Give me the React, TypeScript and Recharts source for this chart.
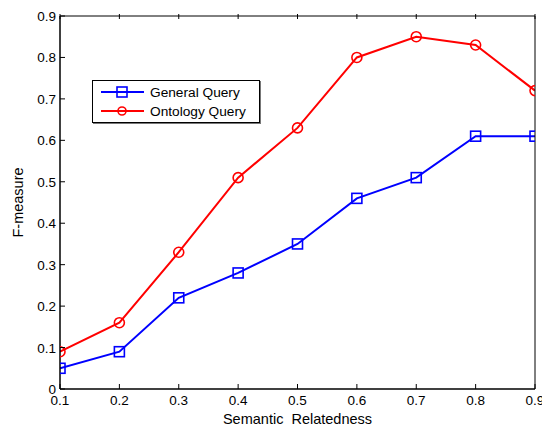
import { Label, Line, LineChart, XAxis, YAxis } from 'recharts';

const relatedness = [0.1, 0.2, 0.3, 0.4, 0.5, 0.6, 0.7, 0.8, 0.9];
const generalQuery = [0.05, 0.09, 0.22, 0.28, 0.35, 0.46, 0.51, 0.61, 0.61];
const ontologyQuery = [0.09, 0.16, 0.33, 0.51, 0.63, 0.8, 0.85, 0.83, 0.72];
const xTicks = [0.1, 0.2, 0.3, 0.4, 0.5, 0.6, 0.7, 0.8, 0.9];
const yTicks = [0, 0.1, 0.2, 0.3, 0.4, 0.5, 0.6, 0.7, 0.8, 0.9];

const FONT = '"Liberation Sans", Arial, sans-serif';
const BLUE = '#0000ff';
const RED = '#ff0000';

const chartData = relatedness.map((r, i) => ({
  r,
  general: generalQuery[i],
  ontology: ontologyQuery[i],
}));

function SquareDot(props: any) {
  const { cx, cy } = props;
  if (cx == null || cy == null) return null;
  return (
    <rect x={cx - 5} y={cy - 5} width={10} height={10} fill="none" stroke={BLUE} strokeWidth={1.6} />
  );
}

function CircleDot(props: any) {
  const { cx, cy } = props;
  if (cx == null || cy == null) return null;
  return <circle cx={cx} cy={cy} r={5} fill="none" stroke={RED} strokeWidth={1.6} />;
}

function BottomTick(props: any) {
  const { x, y, payload } = props;
  return (
    <g>
      <line x1={x} y1={y} x2={x} y2={y - 5} stroke="#000" />
      <text x={x} y={y + 16} textAnchor="middle" fontSize={13.5} fill="#000" fontFamily={FONT}>
        {payload.value}
      </text>
    </g>
  );
}

function LeftTick(props: any) {
  const { x, y, payload } = props;
  return (
    <g>
      <line x1={x} y1={y} x2={x + 5} y2={y} stroke="#000" />
      <text x={x - 4} y={y + 5} textAnchor="end" fontSize={13.5} fill="#000" fontFamily={FONT}>
        {payload.value}
      </text>
    </g>
  );
}

function TopTick(props: any) {
  const { x, y } = props;
  return <line x1={x} y1={y} x2={x} y2={y + 5} stroke="#000" />;
}

function RightTick(props: any) {
  const { x, y } = props;
  return <line x1={x} y1={y} x2={x - 5} y2={y} stroke="#000" />;
}

function LegendBox() {
  const rows = [
    { name: 'General Query', color: BLUE, square: true },
    { name: 'Ontology Query', color: RED, square: false },
  ];
  return (
    <div
      style={{
        position: 'absolute',
        left: 92,
        top: 80,
        width: 168,
        height: 43,
        border: '1px solid #000',
        boxShadow: '1px 1px 0 #777',
        background: '#fff',
        boxSizing: 'border-box',
      }}
    >
      <svg width={166} height={41} style={{ display: 'block' }}>
        {rows.map((row, i) => {
          const cy = 11 + i * 19;
          return (
            <g key={row.name}>
              <line x1={8} x2={51} y1={cy} y2={cy} stroke={row.color} strokeWidth={2} />
              {row.square ? (
                <rect x={24} y={cy - 5} width={10} height={10} fill="none" stroke={row.color} strokeWidth={1.6} />
              ) : (
                <circle cx={29} cy={cy} r={4} fill="none" stroke={row.color} strokeWidth={1.6} />
              )}
              <text x={57} y={cy + 5} fontSize={13.7} fill="#000" fontFamily={FONT}>
                {row.name}
              </text>
            </g>
          );
        })}
      </svg>
    </div>
  );
}

export default function App() {
  return (
    <div style={{ position: 'absolute', left: 0, top: 0, width: 542, height: 427, background: '#fff' }}>
      <LineChart
        width={542}
        height={427}
        data={chartData}
        margin={{ top: 15, right: 6, left: 0, bottom: 0 }}
      >
        <XAxis
          dataKey="r"
          type="number"
          domain={[0.1, 0.9]}
          ticks={xTicks}
          height={38}
          tickSize={0}
          tickMargin={0}
          tick={<BottomTick />}
          axisLine={{ stroke: '#000', strokeWidth: 1.5 }}
          interval={0}
          allowDataOverflow
        >
          <Label
            content={(p: any) => {
              const vb = p.viewBox;
              return (
                <text
                  x={vb.x + vb.width / 2}
                  y={vb.y + 35}
                  textAnchor="middle"
                  fontSize={14.5}
                  fill="#000"
                  fontFamily={FONT}
                  style={{ whiteSpace: 'pre' }}
                >
                  {'Semantic\u00a0 Relatedness'}
                </text>
              );
            }}
          />
        </XAxis>
        <XAxis
          xAxisId="top"
          dataKey="r"
          type="number"
          orientation="top"
          domain={[0.1, 0.9]}
          ticks={xTicks}
          height={1}
          tickSize={0}
          tick={<TopTick />}
          axisLine={{ stroke: '#000', strokeWidth: 1 }}
          interval={0}
        />
        <YAxis
          type="number"
          domain={[0, 0.9]}
          ticks={yTicks}
          width={60}
          tickSize={0}
          tickMargin={0}
          tick={<LeftTick />}
          axisLine={{ stroke: '#000', strokeWidth: 1.5 }}
          interval={0}
        >
          <Label
            content={(p: any) => {
              const vb = p.viewBox;
              const cy = vb.y + vb.height / 2;
              return (
                <text
                  x={18}
                  y={cy}
                  transform={`rotate(-90 18 ${cy})`}
                  textAnchor="middle"
                  dominantBaseline="central"
                  fontSize={14.5}
                  fill="#000"
                  fontFamily={FONT}
                >
                  F-measure
                </text>
              );
            }}
          />
        </YAxis>
        <YAxis
          yAxisId="right"
          orientation="right"
          type="number"
          domain={[0, 0.9]}
          ticks={yTicks}
          width={1}
          tickSize={0}
          tick={<RightTick />}
          axisLine={{ stroke: '#000', strokeWidth: 1 }}
          interval={0}
        />
        <Line
          dataKey="general"
          name="General Query"
          stroke={BLUE}
          strokeWidth={2}
          dot={<SquareDot />}
          activeDot={false}
          isAnimationActive={false}
        />
        <Line
          dataKey="ontology"
          name="Ontology Query"
          stroke={RED}
          strokeWidth={2}
          dot={<CircleDot />}
          activeDot={false}
          isAnimationActive={false}
        />
      </LineChart>
      <LegendBox />
    </div>
  );
}
